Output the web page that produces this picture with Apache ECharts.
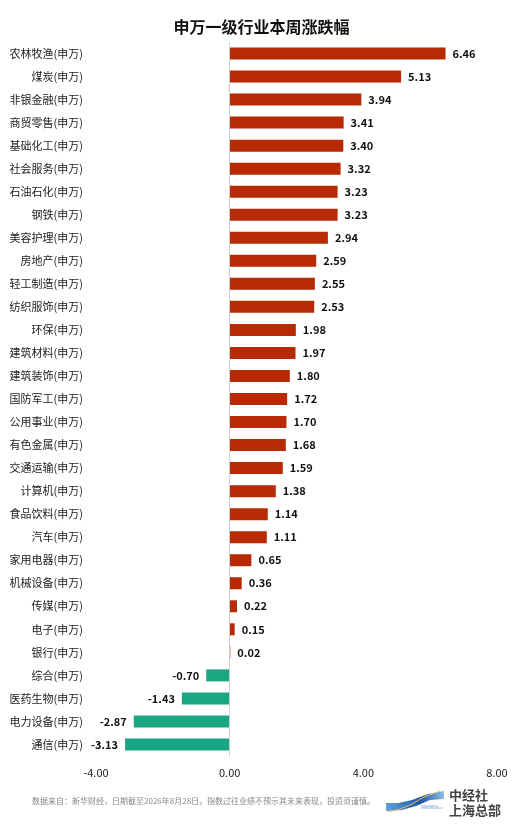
<!DOCTYPE html>
<html><head><meta charset="utf-8">
<script src="https://cdn.jsdelivr.net/npm/echarts@6/dist/echarts.min.js"></script>
<style>html,body{margin:0;padding:0;background:#fff}#c{width:523px;height:832px}</style>
</head><body><div id="c"></div>
<script>
var categories = ['农林牧渔(申万)','煤炭(申万)','非银金融(申万)','商贸零售(申万)','基础化工(申万)','社会服务(申万)','石油石化(申万)','钢铁(申万)','美容护理(申万)','房地产(申万)','轻工制造(申万)','纺织服饰(申万)','环保(申万)','建筑材料(申万)','建筑装饰(申万)','国防军工(申万)','公用事业(申万)','有色金属(申万)','交通运输(申万)','计算机(申万)','食品饮料(申万)','汽车(申万)','家用电器(申万)','机械设备(申万)','传媒(申万)','电子(申万)','银行(申万)','综合(申万)','医药生物(申万)','电力设备(申万)','通信(申万)'];
var values = [6.46,5.13,3.94,3.41,3.40,3.32,3.23,3.23,2.94,2.59,2.55,2.53,1.98,1.97,1.80,1.72,1.70,1.68,1.59,1.38,1.14,1.11,0.65,0.36,0.22,0.15,0.02,-0.70,-1.43,-2.87,-3.13];
var xTicks = [-4, 0, 4, 8];
var chart = echarts.init(document.getElementById('c'));
var font = '"Noto Sans CJK SC", sans-serif';
chart.setOption({
  animation: false,
  title: {text: '申万一级行业本周涨跌幅', left: 'center', top: 14,
    textStyle: {fontSize: 16, fontWeight: 'bold', color: '#111', fontFamily: font}},
  grid: {left: 96, right: 26, top: 42, bottom: 76, containLabel: false},
  xAxis: {type: 'value', min: xTicks[0], max: xTicks[xTicks.length-1], interval: 4,
    axisLine: {show: false}, axisTick: {show: false}, splitLine: {show: false},
    axisLabel: {color: '#222', fontSize: 11, fontFamily: font, margin: 11,
      formatter: function(v){ return v.toFixed(2); }}},
  yAxis: {type: 'category', data: categories, inverse: true,
    axisLine: {show: false}, axisTick: {show: false},
    axisLabel: {color: '#222', fontSize: 11, fontFamily: font, margin: 13}},
  series: [{
    type: 'bar', barWidth: 12,
    data: values.map(function(v){
      return {value: v, itemStyle: {color: v >= 0 ? '#B72A03' : '#1BA683'},
        label: {position: v >= 0 ? 'right' : 'left'}};
    }),
    label: {show: true, fontSize: 11, fontWeight: 'bold', color: '#111', fontFamily: font, distance: 7,
      formatter: function(p){ return p.value.toFixed(2); }},
    markLine: {silent: true, symbol: 'none', label: {show: false},
      lineStyle: {color: '#cfcfcf', type: 'solid', width: 1},
      data: [{xAxis: 0}]}
  }],
  graphic: [
    {type: 'text', left: 32, top: 797, style: {text: '数据来自：新华财经，日期截至2026年8月28日，指数过往业绩不预示其未来表现，投资须谨慎。',
      fill: '#888', fontSize: 8, fontFamily: font}},
    {type: 'polygon', shape: {points: [[386,803],[398,803],[412,800],[428,794],[444,791],[444,799],[430,800],[416,806],[402,810],[386,811]]},
      style: {fill: new echarts.graphic.LinearGradient(0,0,1,0,[{offset:0,color:'#5fa0dc'},{offset:0.6,color:'#1b56a6'},{offset:1,color:'#8fc1ea'}])}},
    {type: 'polyline', shape: {points: [[388,812],[400,809],[412,804],[424,797],[440,791]]}, style: {stroke: '#f0c060', lineWidth: 1}},
    {type: 'text', left: 421, top: 805, style: {text: 'CHINA ECONOMIC\nINFORMATION SERVICE', fill: '#5a8ac0', fontSize: 2, fontFamily: font}},
    {type: 'text', left: 449, top: 789, style: {text: '中经社', fill: '#444', fontSize: 13, fontWeight: 'bold', fontFamily: font}},
    {type: 'text', left: 449, top: 804, style: {text: '上海总部', fill: '#444', fontSize: 13, fontWeight: 'bold', fontFamily: font}}
  ]
});
</script></body></html>
